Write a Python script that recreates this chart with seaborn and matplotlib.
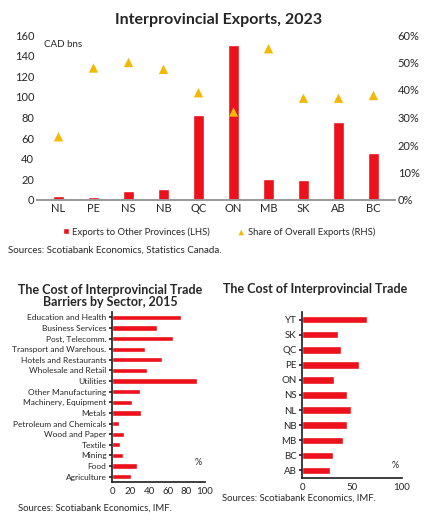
import matplotlib
matplotlib.use("Agg")
import matplotlib.pyplot as plt
import seaborn as sns
import pandas as pd
from matplotlib.ticker import PercentFormatter

provinces = ["NL", "PE", "NS", "NB", "QC", "ON", "MB", "SK", "AB", "BC"]
exports = [4, 2.5, 9, 11, 82, 150, 20, 19, 76, 46]
share = [23, 48, 50, 47.5, 39, 32, 55, 37, 37, 38]

sectors = ["Education and Health", "Business Services", "Post, Telecomm.", "Transport and Warehous.",
           "Hotels and Restaurants", "Wholesale and Retail", "Utilities", "Other Manufacturing",
           "Machinery, Equipment", "Metals", "Petroleum and Chemicals", "Wood and Paper",
           "Textile", "Mining", "Food", "Agriculture"]
sector_cost = [74, 48, 66, 35, 54, 38, 91, 30, 22, 31, 7, 13, 9, 12, 27, 20]

regions = ["YT", "SK", "QC", "PE", "ON", "NS", "NL", "NB", "MB", "BC", "AB"]
region_cost = [65, 36, 39, 57, 32, 45, 49, 45, 41, 31, 28]

sns.set_theme(style="white")
plt.rcParams['font.family'] = ['Lato', 'DejaVu Sans']
RED = "#ec111a"
GOLD = "#f5b800"

fig = plt.figure(figsize=(4.38, 5.30), dpi=100)
W, H = 438, 530
def ax_at(x0, y0, x1, y1):
    return fig.add_axes([x0 / W, 1 - y1 / H, (x1 - x0) / W, (y1 - y0) / H])

fig.text(0.5, 1 - 20 / H, "Interprovincial Exports, 2023", ha="center", va="center",
         fontsize=11.5, fontweight="bold")

ax = ax_at(37, 35, 395, 200)
df = pd.DataFrame({"prov": provinces, "exports": exports, "share": share})
sns.barplot(data=df, x="prov", y="exports", color=RED, width=0.3, ax=ax, saturation=1,
            label="Exports to Other Provinces (LHS)")
ax.set_ylim(0, 160)
ax.set_yticks(range(0, 161, 20))
ax.set_xlabel(""); ax.set_ylabel("")
ax.tick_params(labelsize=8, length=0, pad=2)
ax.text(0.02, 0.97, "CAD bns", transform=ax.transAxes, fontsize=7, va="top")
ax2 = ax.twinx()
sns.scatterplot(data=df, x="prov", y="share", marker="^", color=GOLD, s=45, ax=ax2,
                edgecolor="none", label="Share of Overall Exports (RHS)")
ax2.set_ylim(0, 60)
ax2.yaxis.set_major_formatter(PercentFormatter(decimals=0))
ax2.set_ylabel("")
ax2.tick_params(labelsize=8, length=0, pad=2)
for a in (ax, ax2):
    for s in ["top", "left", "right"]:
        a.spines[s].set_visible(False)
    a.spines["bottom"].set_color("#999999")
h1, l1 = ax.get_legend_handles_labels()
h2, l2 = ax2.get_legend_handles_labels()
ax.legend().remove(); ax2.legend().remove()
fig.legend(h1 + h2, l1 + l2, loc="center", bbox_to_anchor=(0.5, 1 - 232 / H), ncol=2,
           fontsize=6.8, frameon=False, handlelength=0.6, handleheight=0.6, markerscale=0.6,
           columnspacing=3, handletextpad=0.4)
fig.text(8 / W, 1 - 250 / H, "Sources: Scotiabank Economics, Statistics Canada.", fontsize=7, va="center")

# bottom left
fig.text(110 / W, 1 - 296 / H, "The Cost of Interprovincial Trade\nBarriers by Sector, 2015",
         ha="center", va="center", fontsize=9, fontweight="bold", linespacing=1.1)
axl = ax_at(112, 312, 205, 482)
dl = pd.DataFrame({"sector": sectors, "cost": sector_cost})
sns.barplot(data=dl, y="sector", x="cost", color=RED, width=0.5, ax=axl, saturation=1)
axl.set_xlim(0, 100); axl.set_xticks(range(0, 101, 20))
axl.set_xlabel(""); axl.set_ylabel("")
axl.tick_params(axis="y", labelsize=6, length=2, pad=2, left=True)
axl.tick_params(axis="x", labelsize=7, length=0)
for s in ["top", "right"]:
    axl.spines[s].set_visible(False)
axl.text(0.97, 0.1, "%", transform=axl.transAxes, fontsize=6.5, ha="right")
fig.text(18 / W, 1 - 508 / H, "Sources: Scotiabank Economics, IMF.", fontsize=6.8, va="center")

# bottom right
fig.text(315 / W, 1 - 289 / H, "The Cost of Interprovincial Trade", ha="center", va="center",
         fontsize=9, fontweight="bold")
axr = ax_at(302, 312, 402, 478)
dr = pd.DataFrame({"region": regions, "cost": region_cost})
sns.barplot(data=dr, y="region", x="cost", color=RED, width=0.5, ax=axr, saturation=1)
axr.set_xlim(0, 100); axr.set_xticks([0, 50, 100])
axr.set_xlabel(""); axr.set_ylabel("")
axr.tick_params(axis="y", labelsize=7, length=2, pad=2, left=True)
axr.tick_params(axis="x", labelsize=7, length=0)
for s in ["top", "right"]:
    axr.spines[s].set_visible(False)
axr.text(0.97, 0.06, "%", transform=axr.transAxes, fontsize=6.5, ha="right")
fig.text(222 / W, 1 - 498 / H, "Sources: Scotiabank Economics, IMF.", fontsize=6.8, va="center")

fig.savefig("out.png", dpi=100)
